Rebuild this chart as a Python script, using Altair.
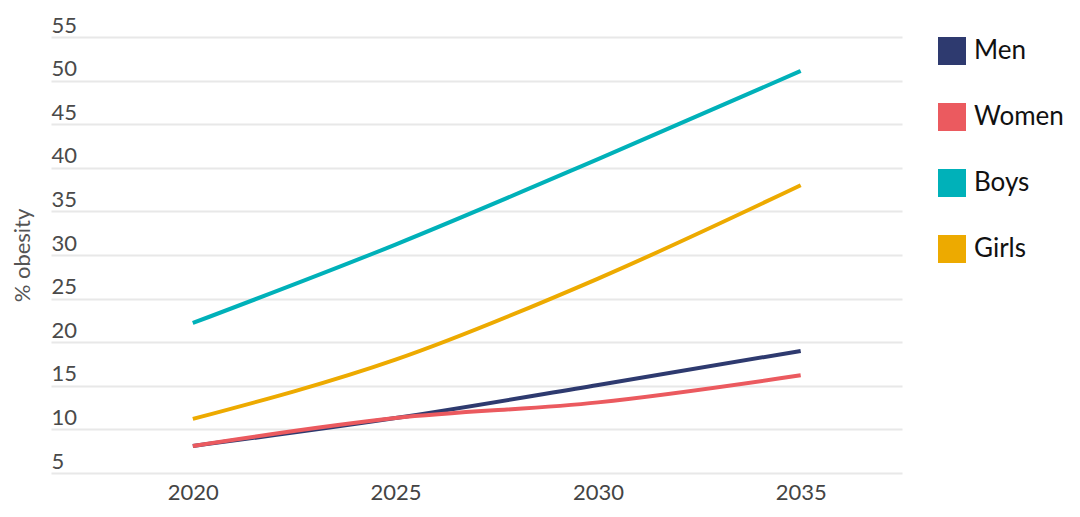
import altair as alt
import pandas as pd

years = [2020, 2025, 2030, 2035]
men = [8.1, 11.3, 15.1, 19.0]
women = [8.1, 11.3, 13.1, 16.2]
boys = [22.2, 31.2, 41.0, 51.1]
girls = [11.2, 18.0, 27.3, 38.0]

series_names = ["Men", "Women", "Boys", "Girls"]
series_colors = ["#2E3A6F", "#EB5A5F", "#00B1B9", "#EDAA00"]
y_ticks = [5, 10, 15, 20, 25, 30, 35, 40, 45, 50, 55]

rows = []
for name, vals in zip(series_names, [men, women, boys, girls]):
    for yr, v in zip(years, vals):
        rows.append({"year": yr, "value": v, "group": name})
df = pd.DataFrame(rows)

FONT = "Lato"

x_enc = alt.X(
    "year:Q",
    scale=alt.Scale(domain=[2016.5, 2037.5], nice=False, zero=False),
    axis=alt.Axis(
        values=years,
        format="d",
        title=None,
        grid=False,
        ticks=False,
        domain=False,
        labelFontSize=22,
        labelColor="#444444",
        labelFont=FONT,
        labelPadding=9,
    ),
)
y_enc = alt.Y(
    "value:Q",
    scale=alt.Scale(domain=[5, 55], nice=False, zero=False),
    axis=alt.Axis(
        values=y_ticks,
        title="% obesity",
        titleFont=FONT,
        titleFontSize=22,
        titleFontWeight="normal",
        titleColor="#555555",
        titleX=-17,
        grid=True,
        gridColor="#E8E8E8",
        gridWidth=2,
        ticks=False,
        domain=False,
        labelAlign="left",
        labelBaseline="alphabetic",
        labelPadding=0,
        labelOffset=-5,
        labelFontSize=22,
        labelColor="#4A4A4A",
        labelFont=FONT,
    ),
)
color_enc = alt.Color(
    "group:N",
    scale=alt.Scale(domain=series_names, range=series_colors),
    sort=series_names,
    legend=alt.Legend(
        title=None,
        orient="none",
        legendX=887,
        legendY=0,
        symbolType="square",
        symbolSize=784,
        symbolStrokeWidth=0,
        symbolOpacity=1,
        labelFontSize=26,
        labelFont=FONT,
        labelColor="#111111",
        labelOffset=8,
        rowPadding=38,
        padding=0,
    ),
)

base = alt.Chart(df).encode(x=x_enc, y=y_enc, color=color_enc)
points = base.mark_point(shape="square", filled=True, size=0, opacity=1)
lines = base.mark_line(interpolate="monotone", strokeWidth=4)

chart = (
    alt.layer(points, lines)
    .properties(
        width=851,
        height=436,
        background="white",
        autosize=alt.AutoSizeParams(type="none"),
        padding={"left": 43, "top": 29, "right": 170, "bottom": 36},
    )
    .configure_view(stroke="transparent", strokeWidth=0)
)

chart.save("out.html", embed_options={"renderer": "svg", "actions": False})
